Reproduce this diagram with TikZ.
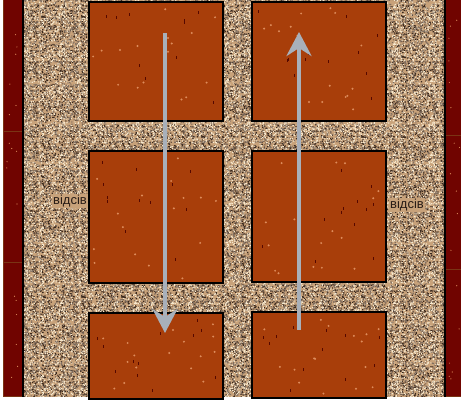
\documentclass[tikz,border=0pt]{standalone}
\usepackage{fontspec}
\setmainfont{Liberation Sans}
\usetikzlibrary{arrows.meta,positioning,calc,patterns}
\definecolor{sand}{RGB}{200,162,122}
\definecolor{sanddark}{RGB}{56,40,30}
\definecolor{sandlight}{RGB}{246,232,206}
\definecolor{sandgrey}{RGB}{128,110,96}
\definecolor{rust}{RGB}{168,62,10}
\definecolor{rustlight}{RGB}{222,140,92}
\definecolor{rustdark}{RGB}{86,8,0}
\definecolor{brickred}{RGB}{112,4,0}
\definecolor{brickedge}{RGB}{122,52,20}
\definecolor{flowgrey}{RGB}{168,176,186}
\definecolor{lbltext}{RGB}{40,28,22}
\pgfmathsetseed{42}
\pgfdeclarepatternformonly{speckA}{\pgfpointorigin}{\pgfpoint{40pt}{40pt}}{\pgfpoint{40pt}{40pt}}{%
  \foreach \k in {1,...,300}{\pgfmathsetmacro\px{rnd*38.8}\pgfmathsetmacro\py{rnd*38.8}%
    \pgfpathrectangle{\pgfpoint{\px pt}{\py pt}}{\pgfpoint{1.2pt}{1.2pt}}\pgfusepath{fill}}}
\pgfdeclarepatternformonly{speckB}{\pgfpointorigin}{\pgfpoint{37pt}{37pt}}{\pgfpoint{37pt}{37pt}}{%
  \foreach \k in {1,...,220}{\pgfmathsetmacro\px{rnd*35.8}\pgfmathsetmacro\py{rnd*35.8}%
    \pgfpathrectangle{\pgfpoint{\px pt}{\py pt}}{\pgfpoint{1.2pt}{1.2pt}}\pgfusepath{fill}}}
\pgfdeclarepatternformonly{speckC}{\pgfpointorigin}{\pgfpoint{43pt}{43pt}}{\pgfpoint{43pt}{43pt}}{%
  \foreach \k in {1,...,180}{\pgfmathsetmacro\px{rnd*41.8}\pgfmathsetmacro\py{rnd*41.8}%
    \pgfpathrectangle{\pgfpoint{\px pt}{\py pt}}{\pgfpoint{1.2pt}{1.2pt}}\pgfusepath{fill}}}

\begin{document}
\begin{tikzpicture}[x=1pt,y=-1pt,>={Stealth[length=24pt,width=25pt,inset=8pt]},
slab/.style={draw=black,line width=2pt,fill=rust,minimum width=134pt,anchor=north west,inner sep=0pt},
brick/.style={draw=brickedge,line width=1pt,fill=brickred,anchor=north west,inner sep=0pt,outer sep=0pt},
flow/.style={->,draw=flowgrey,line width=4pt},
lbl/.style={fill=sand,text=lbltext,inner sep=1pt,font=\fontsize{13}{15}\selectfont}]
\useasboundingbox (0,0) rectangle (461,403);
\fill[white] (0,0) rectangle (461,403);
\fill[sand] (3,0) rectangle (461,397);
\fill[pattern=speckA,pattern color=sanddark] (3,0) rectangle (461,397);
\fill[pattern=speckB,pattern color=sandlight] (3,0) rectangle (461,397);
\fill[pattern=speckC,pattern color=sandgrey] (3,0) rectangle (461,397);
\node[brick,minimum width=20pt,minimum height=132pt] (lb1) at (3,0) {};
\node[brick,minimum width=20pt,minimum height=131pt,below=0pt of lb1.south west,anchor=north west] (lb2) {};
\node[brick,minimum width=20pt,minimum height=134pt,below=0pt of lb2.south west,anchor=north west] (lb3) {};
\node[brick,minimum width=17pt,minimum height=136pt] (rb1) at (445,0) {};
\node[brick,minimum width=17pt,minimum height=134pt,below=0pt of rb1.south west,anchor=north west] (rb2) {};
\node[brick,minimum width=17pt,minimum height=127pt,below=0pt of rb2.south west,anchor=north west] (rb3) {};
\draw[black,line width=1.5pt] (lb1.north east) -- (lb3.south east);
\draw[black,line width=1.5pt] (rb1.north west) -- (rb3.south west);
\node[slab,minimum height=119pt] (tl) at (88,1) {};
\node[slab,minimum height=132pt,below=28pt of tl] (ml) {};
\node[slab,minimum height=86pt,below=28pt of ml] (bl) {};
\node[slab,minimum height=119pt,right=27pt of tl] (tr) {};
\node[slab,minimum height=131pt,below=28pt of tr] (mr) {};
\node[slab,minimum height=86pt,below=28pt of mr] (br) {};
\foreach \s/\h in {tl/119,ml/132,bl/86,tr/119,mr/131,br/86}{
  \foreach \k in {1,...,16} \fill[rustlight] ($(\s.south west)+({5+rnd*124},{-(5+rnd*(\h-10))})$) circle (1.1);
  \foreach \k in {1,...,12} \fill[rustdark] ($(\s.south west)+({5+rnd*124},{-(5+rnd*(\h-10))})$) rectangle ++(0.9,3);
}
\foreach \b in {lb1,lb2,lb3,rb1,rb2,rb3}
  \foreach \k in {1,...,6} \fill[rustlight] ($(\b.north west)+({3+rnd*12},{4+rnd*120})$) circle (0.6);
\coordinate (d1) at (165,33); \coordinate (d2) at (165,333);
\coordinate (u1) at (299,330); \coordinate (u2) at (299,32);
\draw[flow] (d1) -- (d2); \draw[flow] (u1) -- (u2);
\node[lbl] (left) at (70,201) {відсів};
\node[lbl] (right) at (407,205) {відсів};
\end{tikzpicture}
\end{document}
